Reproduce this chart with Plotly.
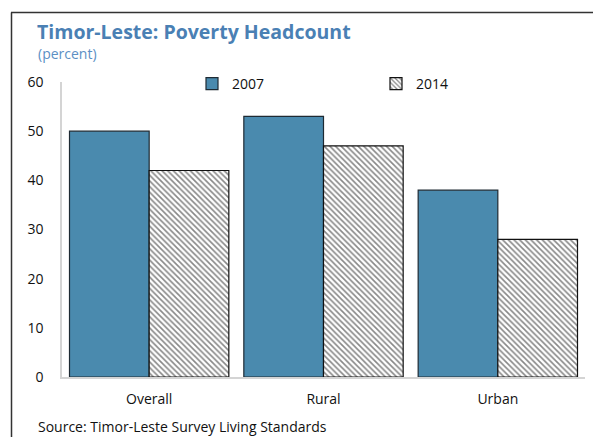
import plotly.graph_objects as go

categories = ["Overall", "Rural", "Urban"]
values_2007 = [50, 53, 38]
values_2014 = [42, 47, 28]
series_names = ["2007", "2014"]
y_ticks = [0, 10, 20, 30, 40, 50, 60]

FONT = "Open Sans"

fig = go.Figure()
fig.add_trace(go.Bar(
    x=categories, y=values_2007, name=series_names[0],
    marker=dict(color="#4A8AAE", line=dict(color="#1e2a33", width=1.2)),
))
fig.add_trace(go.Bar(
    x=categories, y=values_2014, name=series_names[1],
    marker=dict(color="white", line=dict(color="#111111", width=1.2),
                pattern=dict(shape="\\", fgcolor="#111111", bgcolor="white",
                             size=4, solidity=0.4)),
))

W, H = 593, 437
L, R, T, B = 62, 8, 82, 60
pw, ph = W - L - R, H - T - B

def px_to_paper_x(px):
    return (px - L) / pw

def px_to_paper_y(py):
    return (H - B - py) / ph

fig.update_layout(
    width=W, height=H,
    margin=dict(l=L, r=R, t=T, b=B),
    paper_bgcolor="white", plot_bgcolor="white",
    font=dict(family=FONT, size=14, color="#111111"),
    barmode="group", bargap=0.086, bargroupgap=0,
    showlegend=True,
    legend=dict(orientation="h", x=px_to_paper_x(192), y=px_to_paper_y(84),
                xanchor="left", yanchor="middle",
                entrywidth=139, entrywidthmode="pixels",
                font=dict(size=14, family=FONT), itemwidth=30,
                bgcolor="rgba(0,0,0,0)"),
    title=dict(text="<b>Timor-Leste: Poverty Headcount</b>",
               x=37 / W, xanchor="left", xref="container",
               y=1 - 32 / H, yanchor="middle", yref="container",
               font=dict(family=FONT, size=19.5, color="#4A80B4")),
    xaxis=dict(showline=True, linecolor="#d4d4d4", linewidth=1.5,
               ticks="", showgrid=False, tickfont=dict(size=14),
               ticklabelstandoff=8),
    yaxis=dict(range=[0, 60], tickvals=y_ticks, showline=True,
               linecolor="#d4d4d4", linewidth=1.5, ticks="", showgrid=False,
               zeroline=False, tickfont=dict(size=14), ticklabelstandoff=14),
)

fig.add_annotation(text="(percent)", xref="paper", yref="paper",
                   x=px_to_paper_x(36), y=px_to_paper_y(54),
                   xanchor="left", yanchor="middle", showarrow=False,
                   font=dict(family=FONT, size=14, color="#5B8FC4"))
fig.add_annotation(text="Source: Timor-Leste Survey Living Standards",
                   xref="paper", yref="paper",
                   x=px_to_paper_x(36), y=px_to_paper_y(415),
                   xanchor="left", yanchor="top", showarrow=False,
                   font=dict(family=FONT, size=14, color="#111111"))

# frame of the original exhibit box: left and top edges
fig.add_shape(type="line", xref="paper", yref="paper",
              x0=px_to_paper_x(11.5), x1=px_to_paper_x(11.5),
              y0=px_to_paper_y(12.5), y1=px_to_paper_y(440),
              line=dict(color="#333333", width=1.5))
fig.add_shape(type="line", xref="paper", yref="paper",
              x0=px_to_paper_x(11), x1=px_to_paper_x(593),
              y0=px_to_paper_y(12.5), y1=px_to_paper_y(12.5),
              line=dict(color="#333333", width=1.5))

fig.write_html("out.html")
